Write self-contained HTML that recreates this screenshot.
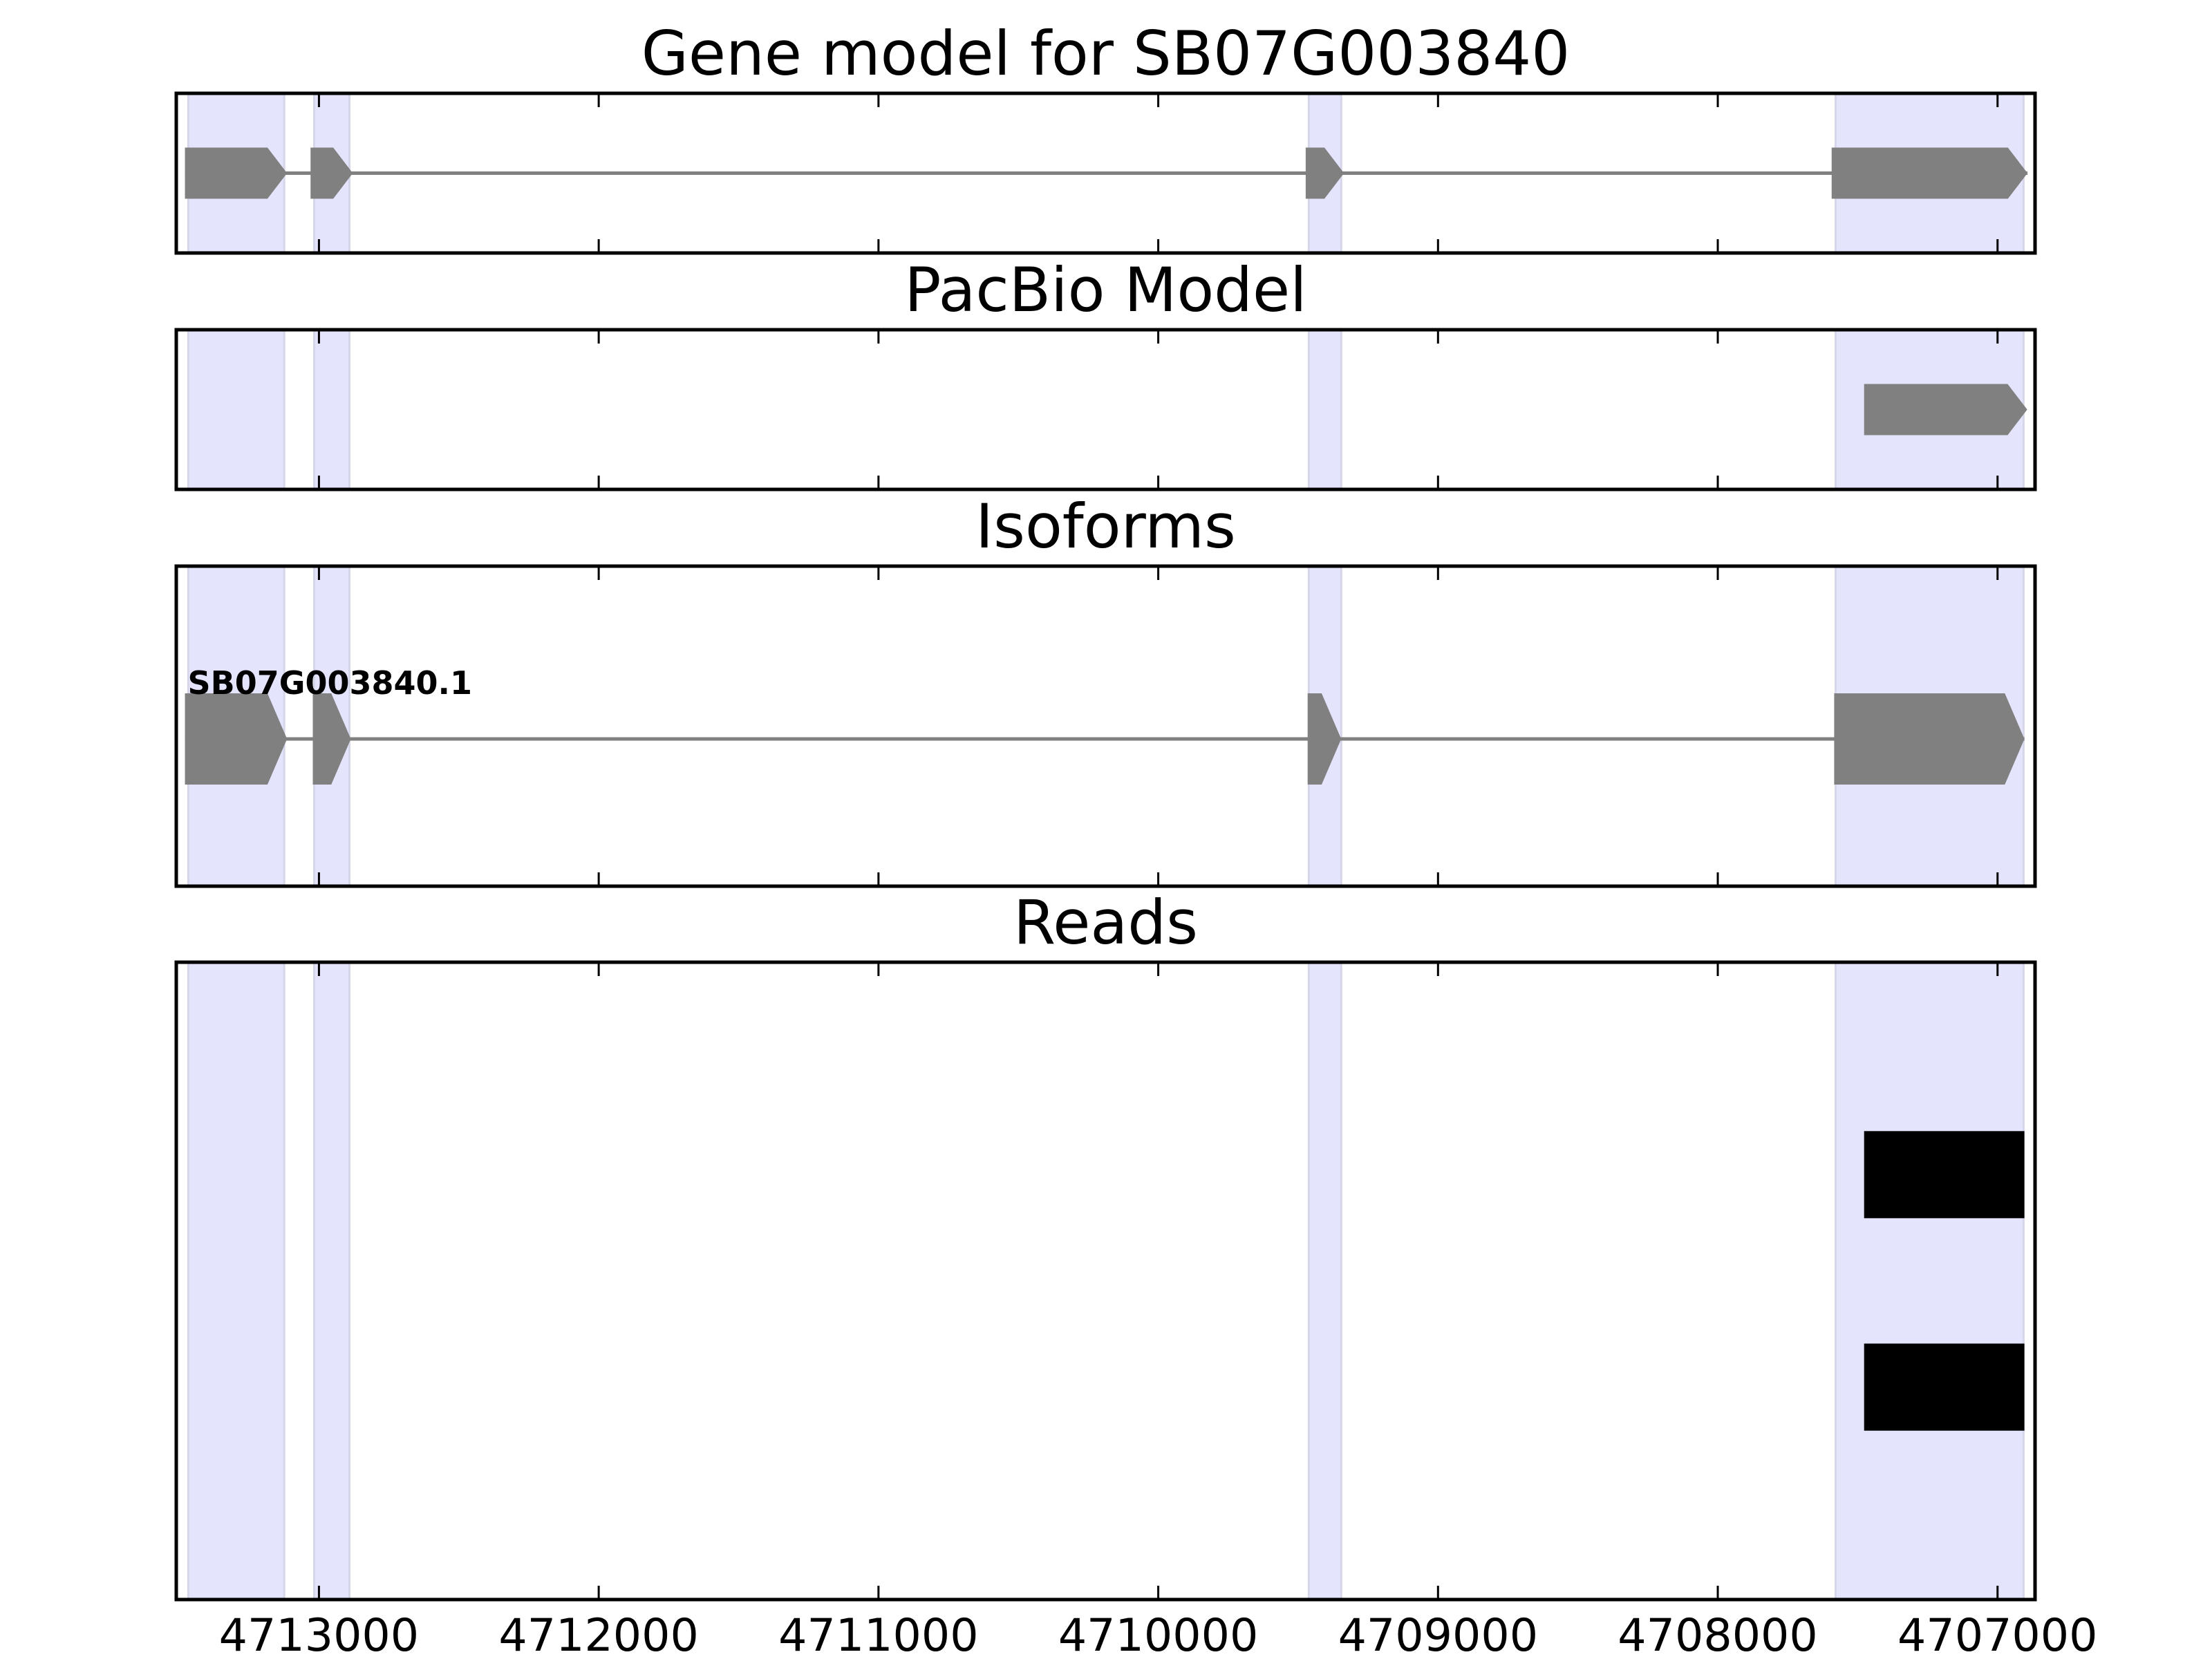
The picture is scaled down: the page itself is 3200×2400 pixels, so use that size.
<!DOCTYPE html>
<html><head><meta charset="utf-8"><title>Gene model for SB07G003840</title>
<style>html,body{margin:0;padding:0;background:#fff;}svg{display:block;}</style></head>
<body>
<svg id="chart" xmlns="http://www.w3.org/2000/svg" width="3200" height="2400" viewBox="0 0 3200 2400" font-family="'DejaVu Sans','Liberation Sans',sans-serif"></svg>
<script>
// ---- data (genomic coordinates, bp) ----
const xTicks = [4713000, 4712000, 4711000, 4710000, 4709000, 4708000, 4707000];
const xTickLabels = ["4713000","4712000","4711000","4710000","4709000","4708000","4707000"];
const spanStarts = [4713467, 4713017, 4709462, 4707579];
const spanEnds   = [4713124, 4712891, 4709346, 4706907];
const geneExonStarts = [4713479, 4713030, 4709473, 4707593];
const geneExonEnds   = [4713114, 4712879, 4709336, 4706893];
const pacbioExonStarts = [4707477];
const pacbioExonEnds   = [4706894];
const isoExonStarts = [4713479, 4713022, 4709466, 4707584];
const isoExonEnds   = [4713114, 4712886, 4709346, 4706904];
const isoformName = "SB07G003840.1";
const readStarts = [4707477, 4707477];
const readEnds   = [4706904, 4706904];
const readRows   = [1, 2];
const panelTitles = ["Gene model for SB07G003840", "PacBio Model", "Isoforms", "Reads"];

// ---- layout ----
const NS = "http://www.w3.org/2000/svg";
const svg = document.getElementById('chart');
const LEFT = 255, RIGHT = 2944;
const X0 = 4713510, X1 = 4706866;
function xs(bp){ return LEFT + (X0 - bp) / (X0 - X1) * (RIGHT - LEFT); }
const panels = [
  {top:135, bottom:366, cy:0.5, h:0.32},
  {top:477, bottom:708, cy:0.5, h:0.32},
  {top:819, bottom:1282, cy:0.54, h:0.285},
  {top:1392, bottom:2314}
];
function el(tag, attrs, parent){
  const e = document.createElementNS(NS, tag);
  for (const k in attrs) e.setAttribute(k, attrs[k]);
  (parent || svg).appendChild(e);
  return e;
}
const HEAD = 70; // arrow head length in bp

function drawSpans(p, g){
  for (let i = 0; i < spanStarts.length; i++){
    const a = xs(spanStarts[i]), b = xs(spanEnds[i]);
    const r = el('rect', {x:a, y:p.top, width:b-a, height:p.bottom-p.top, fill:'#e4e4fd', stroke:'#d6d6ea', 'stroke-width':3}, g);
    
    
  }
}
function drawModel(p, starts, ends, g, withIntron){
  const H = p.bottom - p.top;
  const cy = p.top + p.cy * H, hh = p.h * H / 2;
  if (withIntron && starts.length > 1){
    const ln = el('line', {x1:xs(starts[0]), x2:xs(ends[ends.length-1]), y1:cy, y2:cy, stroke:'#808080', 'stroke-width':5}, g);
    
    
  }
  for (let i = 0; i < starts.length; i++){
    const a = xs(starts[i]), tip = xs(ends[i]);
    const base = Math.max(a, xs(ends[i] + HEAD));
    const pts = [[a,cy-hh],[base,cy-hh],[tip,cy],[base,cy+hh],[a,cy+hh]].map(q=>q.join(',')).join(' ');
    const pg = el('polygon', {points:pts, fill:'#808080'}, g);
    
    
  }
}
function drawFrame(p, idx){
  const g = el('g', {});
  
  
  for (let i = 0; i < xTicks.length; i++){
    const x = xs(xTicks[i]);
    el('line', {x1:x, x2:x, y1:p.top, y2:p.top+20, stroke:'#000', 'stroke-width':3}, g);
    el('line', {x1:x, x2:x, y1:p.bottom, y2:p.bottom-20, stroke:'#000', 'stroke-width':3}, g);
  }
  el('rect', {x:LEFT, y:p.top, width:RIGHT-LEFT, height:p.bottom-p.top, fill:'none', stroke:'#000', 'stroke-width':5}, g);
  const t = el('text', {x:(LEFT+RIGHT)/2, y:p.top-27, 'font-size':88, 'text-anchor':'middle', fill:'#000'});
  t.textContent = panelTitles[idx];
  
  
}

// panel 1: gene model
let g1 = el('g', {});  
drawSpans(panels[0], g1); drawModel(panels[0], geneExonStarts, geneExonEnds, g1, true); drawFrame(panels[0], 0);
// panel 2: pacbio
let g2 = el('g', {});  
drawSpans(panels[1], g2); drawModel(panels[1], pacbioExonStarts, pacbioExonEnds, g2, false); drawFrame(panels[1], 1);
// panel 3: isoforms
let g3 = el('g', {});  
drawSpans(panels[2], g3); drawModel(panels[2], isoExonStarts, isoExonEnds, g3, true);
const lab = el('text', {x:xs(isoExonStarts[0])+4, y:1004, 'font-size':46, 'font-weight':'bold', fill:'#000'}, g3);
lab.textContent = isoformName;


drawFrame(panels[2], 2);
// panel 4: reads
let g4 = el('g', {});  
drawSpans(panels[3], g4);
const p4 = panels[3], rowH = (p4.bottom - p4.top) / 3;
for (let i = 0; i < readStarts.length; i++){
  const cy = p4.top + readRows[i] * rowH;
  const a = xs(readStarts[i]), b = xs(readEnds[i]);
  const r = el('rect', {x:a, y:cy - 0.205*rowH, width:b-a, height:0.41*rowH, fill:'#000'}, g4);
  
  
}
drawFrame(panels[3], 3);
// x tick labels
for (let i = 0; i < xTicks.length; i++){
  const t = el('text', {x:xs(xTicks[i]), y:2388, 'font-size':65, 'text-anchor':'middle', fill:'#000'});
  t.textContent = xTickLabels[i];
  
  
}
</script>
</body></html>
